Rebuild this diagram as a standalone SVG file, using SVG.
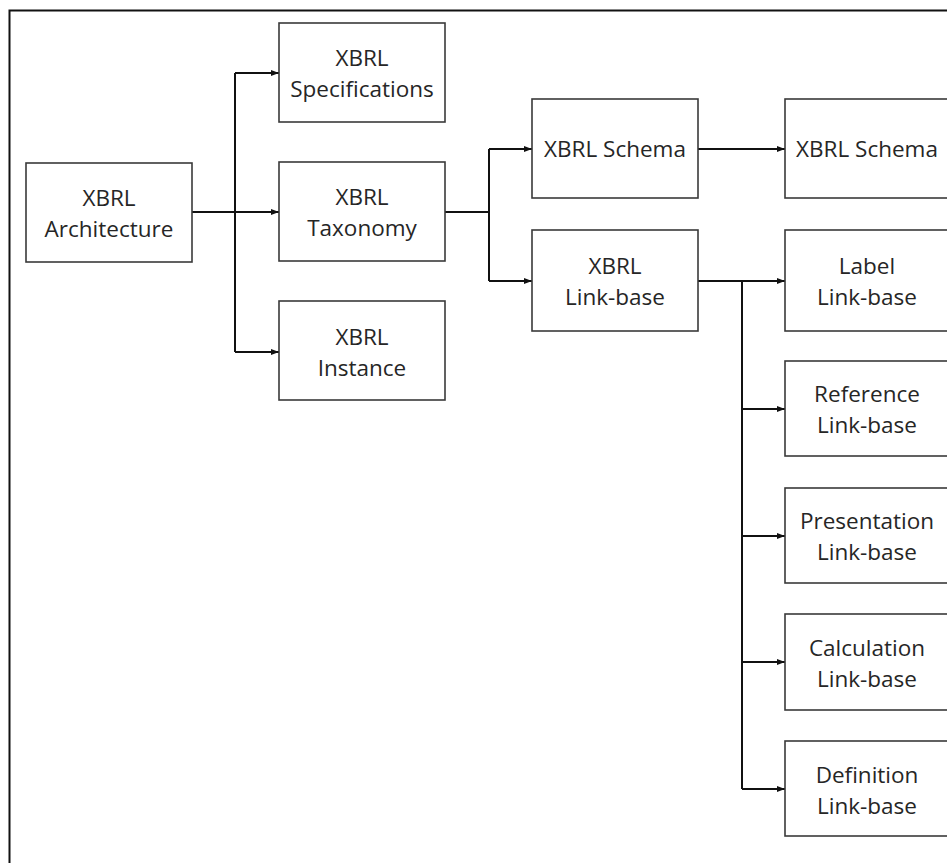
<svg xmlns="http://www.w3.org/2000/svg" width="947" height="863" viewBox="0 0 947 863">
  <style>
    .box { fill: #ffffff; stroke: #3a3a3a; stroke-width: 1.6; }
    .lbl { font-family: "Open Sans", "Noto Sans", "Liberation Sans", sans-serif; font-size: 22.5px; fill: #262626; text-anchor: middle; font-variant-ligatures: none; }
    .wire { fill: none; stroke: #111111; stroke-width: 2; }
    .frame { fill: none; stroke: #111111; stroke-width: 2; }
  </style>
  <defs>
    <marker id="head" viewBox="0 0 8 8" refX="8" refY="4" markerWidth="8" markerHeight="8" markerUnits="userSpaceOnUse" orient="auto">
      <path d="M0,1 L8,4 L0,7 Z" fill="#111111"/>
    </marker>
  </defs>

  <rect width="947" height="863" fill="#ffffff"/>
  <!-- outer frame (top and left edges only within the canvas) -->
  <path class="frame" d="M9.5,863 V10.5 H947"/>

  <!-- connectors -->
  <g id="connectors">
    <path class="wire" d="M192,212 H235"/>
    <path class="wire" d="M235,352 V73"/>
    <path class="wire" d="M235,73 H279" marker-end="url(#head)"/>
    <path class="wire" d="M235,212 H279" marker-end="url(#head)"/>
    <path class="wire" d="M235,352 H279" marker-end="url(#head)"/>

    <path class="wire" d="M445,212 H489"/>
    <path class="wire" d="M489,149 V281"/>
    <path class="wire" d="M489,149 H532" marker-end="url(#head)"/>
    <path class="wire" d="M489,281 H532" marker-end="url(#head)"/>

    <path class="wire" d="M698,149 H785" marker-end="url(#head)"/>

    <path class="wire" d="M698,281 H785" marker-end="url(#head)"/>
    <path class="wire" d="M742,281 V789"/>
    <path class="wire" d="M742,409 H785" marker-end="url(#head)"/>
    <path class="wire" d="M742,536 H785" marker-end="url(#head)"/>
    <path class="wire" d="M742,662 H785" marker-end="url(#head)"/>
    <path class="wire" d="M742,789 H785" marker-end="url(#head)"/>
  </g>

  <g id="architecture">
    <rect class="box" x="26" y="163" width="166" height="99"/>
    <text class="lbl" x="109" y="206">XBRL</text>
    <text class="lbl" x="109" y="237">Architecture</text>
  </g>

  <g id="specifications">
    <rect class="box" x="279" y="23" width="166" height="99"/>
    <text class="lbl" x="362" y="66">XBRL</text>
    <text class="lbl" x="362" y="97">Specifications</text>
  </g>

  <g id="taxonomy">
    <rect class="box" x="279" y="162" width="166" height="99"/>
    <text class="lbl" x="362" y="205">XBRL</text>
    <text class="lbl" x="362" y="236">Taxonomy</text>
  </g>

  <g id="instance">
    <rect class="box" x="279" y="301" width="166" height="99"/>
    <text class="lbl" x="362" y="345">XBRL</text>
    <text class="lbl" x="362" y="376">Instance</text>
  </g>

  <g id="schema">
    <rect class="box" x="532" y="99" width="166" height="99"/>
    <text class="lbl" x="615" y="157">XBRL Schema</text>
  </g>

  <g id="linkbase">
    <rect class="box" x="532" y="230" width="166" height="101"/>
    <text class="lbl" x="615" y="274">XBRL</text>
    <text class="lbl" x="615" y="305">Link-base</text>
  </g>

  <g id="schema-file">
    <rect class="box" x="785" y="99" width="166" height="99"/>
    <text class="lbl" x="867" y="157">XBRL Schema</text>
  </g>

  <g id="label-linkbase">
    <rect class="box" x="785" y="230" width="166" height="101"/>
    <text class="lbl" x="867" y="274">Label</text>
    <text class="lbl" x="867" y="305">Link-base</text>
  </g>

  <g id="reference-linkbase">
    <rect class="box" x="785" y="361" width="166" height="95"/>
    <text class="lbl" x="867" y="402">Reference</text>
    <text class="lbl" x="867" y="433">Link-base</text>
  </g>

  <g id="presentation-linkbase">
    <rect class="box" x="785" y="488" width="166" height="95"/>
    <text class="lbl" x="867" y="529">Presentation</text>
    <text class="lbl" x="867" y="560">Link-base</text>
  </g>

  <g id="calculation-linkbase">
    <rect class="box" x="785" y="614" width="166" height="96"/>
    <text class="lbl" x="867" y="656">Calculation</text>
    <text class="lbl" x="867" y="687">Link-base</text>
  </g>

  <g id="definition-linkbase">
    <rect class="box" x="785" y="741" width="166" height="95"/>
    <text class="lbl" x="867" y="783">Definition</text>
    <text class="lbl" x="867" y="814">Link-base</text>
  </g>
</svg>
